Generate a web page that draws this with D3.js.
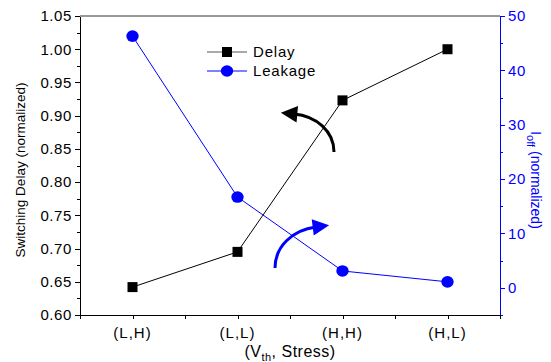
<!DOCTYPE html>
<html>
<head>
<meta charset="utf-8">
<script src="https://cdn.jsdelivr.net/npm/d3@7"></script>
<style>
  body { margin: 0; background: #fff; }
  svg { font-family: "Liberation Sans", Arial, sans-serif; }
  .axis path, .axis line { shape-rendering: crispEdges; }
</style>
</head>
<body>
<svg id="chart" width="551" height="362"></svg>
<script>
// chart data
var categories = ["(L,H)", "(L,L)", "(H,H)", "(H,L)"];
var delayValues = [0.642, 0.695, 0.923, 1.0];
var leakageValues = [46.3, 16.7, 3.1, 1.1];
var leftTicks = [0.60, 0.65, 0.70, 0.75, 0.80, 0.85, 0.90, 0.95, 1.00, 1.05];
var rightTicks = [0, 10, 20, 30, 40, 50];

var dims = {
    margins: { top: 16, right: 51, bottom: 47, left: 80 },
    container: { width: 551, height: 362 }
};
var height = dims.container.height - dims.margins.top - dims.margins.bottom;
var width = dims.container.width - dims.margins.left - dims.margins.right;
var blue = "#0000ff";

var svg = d3.select("#chart");
var g = svg.append("g")
    .attr("transform", `translate(${dims.margins.left}, ${dims.margins.top})`);

var xScale = d3.scalePoint()
    .domain(categories)
    .range([0, width])
    .padding(0.5);
var yLeft = d3.scaleLinear().domain([0.6, 1.05]).range([height, 0]);
var yRight = d3.scaleLinear().domain([-5, 50]).range([height, 0]);

// frame top line
g.append("line")
    .attr("x1", 0).attr("x2", width).attr("y1", 0).attr("y2", 0)
    .attr("stroke", "#333").attr("stroke-width", 1);

// left axis with minor ticks
var minorLeft = d3.range(0.625, 1.05, 0.05);
g.append("g").attr("class", "axis")
    .call(d3.axisLeft(yLeft).tickValues(minorLeft).tickSize(3).tickFormat(""))
    .call(a => a.select(".domain").remove());
g.append("g").attr("class", "axis")
    .call(d3.axisLeft(yLeft).tickValues(leftTicks).tickSize(5).tickSizeOuter(0).tickFormat(d3.format(".2f")))
    .call(a => a.selectAll("text").attr("font-size", 15).attr("letter-spacing", 0.6)
        .attr("fill", "#000").attr("x", -8));

// right axis with minor ticks
var minorRight = [-5, 5, 15, 25, 35, 45];
g.append("g").attr("class", "axis")
    .attr("transform", `translate(${width}, 0)`)
    .call(d3.axisRight(yRight).tickValues(minorRight).tickSize(3).tickFormat(""))
    .call(a => a.select(".domain").remove())
    .call(a => a.selectAll("line").attr("stroke", blue));
g.append("g").attr("class", "axis")
    .attr("transform", `translate(${width}, 0)`)
    .call(d3.axisRight(yRight).tickValues(rightTicks).tickSize(5).tickSizeOuter(0))
    .call(a => a.select(".domain").attr("stroke", blue))
    .call(a => a.selectAll("line").attr("stroke", blue))
    .call(a => a.selectAll("text").attr("font-size", 15).attr("letter-spacing", 0.6)
        .attr("fill", blue).attr("x", 8));

// bottom axis: ticks at categories and between
var step = xScale.step();
var bottomTicks = d3.range(0, width + 1, step / 2);
g.append("g").attr("class", "axis")
    .attr("transform", `translate(0, ${height})`)
    .call(d3.axisBottom(d3.scaleLinear().domain([0, width]).range([0, width]))
        .tickValues(bottomTicks).tickSize(4).tickSizeOuter(0).tickFormat(""))
    .call(a => a.select(".domain").attr("stroke", "#000"));
g.append("g")
    .attr("transform", `translate(0, ${height})`)
    .selectAll("text")
    .data(categories)
    .enter()
    .append("text")
    .attr("x", d => xScale(d))
    .attr("y", 23)
    .attr("text-anchor", "middle")
    .attr("font-size", 15)
    .attr("letter-spacing", 1)
    .text(d => d);

// axis titles
svg.append("text")
    .attr("transform", `translate(25, 170) rotate(-90)`)
    .attr("text-anchor", "middle")
    .attr("font-size", 13.5)
    .text("Switching Delay (normalized)");

var rt = svg.append("text")
    .attr("transform", `translate(531, 180) rotate(90)`)
    .attr("text-anchor", "middle")
    .attr("font-size", 14)
    .attr("fill", blue);
rt.append("tspan").text("I");
rt.append("tspan").attr("font-size", 11).attr("dy", 4).text("off");
rt.append("tspan").attr("dy", -4).text(" (normalized)");

var xt = svg.append("text")
    .attr("x", dims.margins.left + width / 2)
    .attr("y", 357)
    .attr("text-anchor", "middle")
    .attr("font-size", 16)
    .attr("letter-spacing", 0.5);
xt.append("tspan").text("(V");
xt.append("tspan").attr("font-size", 11).attr("dy", 4).text("th");
xt.append("tspan").attr("dy", -4).text(", Stress)");

// series lines
var delayLine = d3.line().x((d, i) => xScale(categories[i])).y(d => yLeft(d));
var leakLine = d3.line().x((d, i) => xScale(categories[i])).y(d => yRight(d));

g.append("path").datum(leakageValues)
    .attr("d", leakLine).attr("fill", "none").attr("stroke", blue).attr("stroke-width", 1);
g.append("path").datum(delayValues)
    .attr("d", delayLine).attr("fill", "none").attr("stroke", "#000").attr("stroke-width", 1);

g.selectAll(".sq").data(delayValues).enter().append("rect")
    .attr("class", "sq")
    .attr("x", (d, i) => xScale(categories[i]) - 5)
    .attr("y", d => yLeft(d) - 5)
    .attr("width", 10).attr("height", 10).attr("fill", "#000");

g.selectAll(".dot").data(leakageValues).enter().append("ellipse")
    .attr("class", "dot")
    .attr("cx", (d, i) => xScale(categories[i]))
    .attr("cy", d => yRight(d))
    .attr("rx", 6.2).attr("ry", 5.8).attr("fill", blue);

// legend
var legend = svg.append("g").attr("transform", "translate(207, 52)");
legend.append("line").attr("x1", 0).attr("x2", 40).attr("y1", 0).attr("y2", 0)
    .attr("stroke", "#555").attr("stroke-width", 1.2);
legend.append("rect").attr("x", 15).attr("y", -5).attr("width", 10).attr("height", 10).attr("fill", "#000");
legend.append("text").attr("x", 46).attr("y", 5).attr("font-size", 15).attr("letter-spacing", 0.8).text("Delay");
legend.append("line").attr("x1", 0).attr("x2", 40).attr("y1", 19).attr("y2", 19)
    .attr("stroke", blue).attr("stroke-width", 1);
legend.append("ellipse").attr("cx", 20).attr("cy", 19).attr("rx", 6.2).attr("ry", 5.8).attr("fill", blue);
legend.append("text").attr("x", 46).attr("y", 24).attr("font-size", 15).attr("letter-spacing", 0.8).text("Leakage");

// curved arrows
var defs = svg.append("defs");
[["arrBlack", "#000"], ["arrBlue", blue]].forEach(function(m) {
    defs.append("marker")
        .attr("id", m[0])
        .attr("viewBox", "0 0 10 10")
        .attr("refX", 2).attr("refY", 5)
        .attr("markerWidth", 7.5).attr("markerHeight", 5.5)
        .attr("markerUnits", "strokeWidth")
        .attr("orient", "auto")
        .append("path").attr("d", "M0,0 L10,5 L0,10 Z").attr("fill", m[1]);
});
svg.append("path")
    .attr("d", "M334,152 C334,131 316,116 294,114")
    .attr("fill", "none").attr("stroke", "#000").attr("stroke-width", 3)
    .attr("marker-end", "url(#arrBlack)");
svg.append("path")
    .attr("d", "M275,268 C275,247 292,230 316,227")
    .attr("fill", "none").attr("stroke", blue).attr("stroke-width", 3)
    .attr("marker-end", "url(#arrBlue)");
</script>
</body>
</html>
